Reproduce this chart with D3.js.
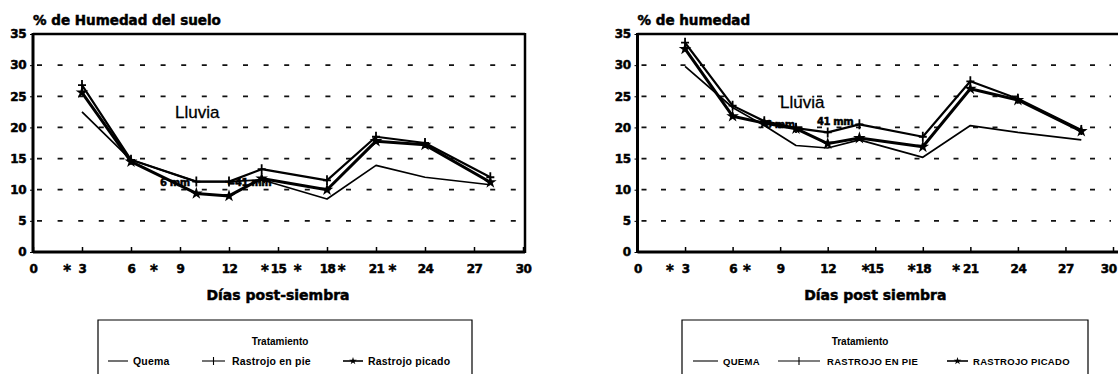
<!DOCTYPE html>
<html>
<head>
<meta charset="utf-8">
<script src="https://cdn.jsdelivr.net/npm/d3@7"></script>
<style>
  body { margin: 0; background: #fff; }
  svg { display: block; }
</style>
</head>
<body>
<div class="canvas"></div>
<script>
// Data - left panel (% de Humedad del suelo)
var daysL = [3, 6, 10, 12, 14, 18, 21, 24, 28],
    quemaL = [22.5, 14.8, 11.3, 11.3, 11.6, 8.5, 13.9, 12.0, 10.8],
    pieL = [26.8, 14.8, 11.3, 11.3, 13.3, 11.5, 18.5, 17.5, 12.0],
    picadoL = [25.6, 14.5, 9.4, 9.0, 11.8, 10.0, 17.8, 17.2, 11.2],
    rainL = [2.1, 7.4, 14.2, 16.2, 18.9, 22.0];

// Data - right panel (% de humedad)
var daysR = [3, 6, 8, 10, 12, 14, 18, 21, 24, 28],
    quemaR = [29.8, 23.2, 20.3, 17.1, 16.7, 18.0, 15.2, 20.3, 19.2, 18.0],
    pieR = [33.6, 23.5, 21.0, 19.9, 19.2, 20.5, 18.5, 27.4, 24.6, 19.6],
    picadoR = [32.6, 21.8, 20.7, 19.8, 17.4, 18.3, 16.9, 26.2, 24.4, 19.4],
    rainR = [2.05, 6.9, 14.4, 17.3, 20.1];

var xTicks = [0, 3, 6, 9, 12, 15, 18, 21, 24, 27, 30],
    yTicks = [0, 5, 10, 15, 20, 25, 30, 35],
    gridVals = [5, 10, 15, 20, 25, 30],
    legendL = ['Quema', 'Rastrojo en pie', 'Rastrojo picado'],
    legendR = ['QUEMA', 'RASTROJO EN PIE', 'RASTROJO PICADO'];

var width = 1118, height = 374,
    boldFont = 'DejaVu Sans, sans-serif',
    plainFont = 'Liberation Sans, Arial, sans-serif';

var svg = d3.select('.canvas').append('svg')
    .attr('width', width)
    .attr('height', height)
    .style('background-color', '#fff');

var y = d3.scaleLinear().domain([0, 35]).range([252, 34]);

// heavy text, thickened with a thin stroke
function heavy(sel, size) {
    return sel.attr('font-family', boldFont).attr('font-weight', 'bold')
        .attr('font-size', size).attr('fill', '#000')
        .attr('stroke', '#000').attr('stroke-width', 0.5);
}

function panel(cfg) {
    var x = d3.scaleLinear().domain([0, 30]).range([cfg.x0, cfg.x1]);
    var g = svg.append('g');

    // dashed grid
    g.selectAll('.grid').data(gridVals).enter().append('line')
        .attr('x1', cfg.x0 + 4).attr('x2', cfg.x1 - 2)
        .attr('y1', function (d) { return y(d); })
        .attr('y2', function (d) { return y(d); })
        .attr('stroke', '#111').attr('stroke-width', 1.8)
        .attr('stroke-dasharray', cfg.dash);

    // y axis
    var ya = g.append('g').attr('transform', 'translate(' + cfg.x0 + ',0)')
        .call(d3.axisLeft(y).tickValues(yTicks).tickSize(3).tickPadding(4));
    ya.select('.domain').remove();
    heavy(ya.selectAll('text'), 12).attr('letter-spacing', -0.5);

    // x axis
    var xa = g.append('g').attr('transform', 'translate(0,252)')
        .call(d3.axisBottom(x).tickValues(xTicks).tickSizeInner(-5).tickSizeOuter(0).tickPadding(12));
    xa.select('.domain').remove();
    xa.selectAll('line').attr('stroke-width', 1.5);
    heavy(xa.selectAll('text'), 12).attr('letter-spacing', -0.5);
    if (cfg.lastEnd) {
        xa.selectAll('.tick').filter(function (d) { return d === 30; })
            .select('text').attr('text-anchor', 'end').attr('dx', 3);
    }

    // rain marks next to x labels
    heavy(g.selectAll('.rain').data(cfg.rain).enter().append('text')
        .attr('x', function (d) { return x(d); })
        .attr('y', 276)
        .attr('text-anchor', 'middle'), 15)
        .text('*');

    // frame
    g.append('line').attr('x1', cfg.x0).attr('x2', cfg.frameRight).attr('y1', 34).attr('y2', 34)
        .attr('stroke', '#000').attr('stroke-width', 2.5);
    g.append('line').attr('x1', cfg.x0).attr('x2', cfg.frameRight).attr('y1', 252).attr('y2', 252)
        .attr('stroke', '#000').attr('stroke-width', 3);
    g.append('line').attr('x1', cfg.x0).attr('x2', cfg.x0).attr('y1', 33).attr('y2', 253)
        .attr('stroke', '#000').attr('stroke-width', 3);
    if (cfg.rightLine) {
        g.append('line').attr('x1', cfg.frameRight).attr('x2', cfg.frameRight).attr('y1', 33).attr('y2', 253)
            .attr('stroke', '#000').attr('stroke-width', 2.5);
    }

    // title
    heavy(g.append('text').attr('x', cfg.x0).attr('y', 25), 13.5)
        .text(cfg.title);

    // x axis label
    heavy(g.append('text').attr('x', (cfg.x0 + cfg.x1) / 2).attr('y', 300)
        .attr('text-anchor', 'middle'), 14)
        .text(cfg.xLabel);

    // series
    var line = d3.line().x(function (d) { return x(d[0]); }).y(function (d) { return y(d[1]); });
    var series = [
        {vals: cfg.quema, w: 1.7, mark: null},
        {vals: cfg.pie, w: 2.2, mark: 'cross'},
        {vals: cfg.picado, w: 3, mark: 'star'}
    ];
    series.forEach(function (s) {
        var pts = cfg.days.map(function (d, i) { return [d, s.vals[i]]; });
        g.append('path').attr('d', line(pts))
            .attr('fill', 'none').attr('stroke', '#000').attr('stroke-width', s.w)
            .attr('stroke-linejoin', 'round');
        if (s.mark === 'cross') {
            g.selectAll(null).data(pts).enter().append('path')
                .attr('transform', function (d) { return 'translate(' + x(d[0]) + ',' + y(d[1]) + ')'; })
                .attr('d', 'M-4,0H4M0,-5V5')
                .attr('stroke', '#000').attr('stroke-width', 1.8);
        } else if (s.mark === 'star') {
            g.selectAll(null).data(pts).enter().append('path')
                .attr('transform', function (d) { return 'translate(' + x(d[0]) + ',' + y(d[1]) + ')'; })
                .attr('d', d3.symbol().type(d3.symbolStar).size(50))
                .attr('fill', '#000');
        }
    });

    // annotations
    g.append('text').attr('x', cfg.lluvia[0]).attr('y', cfg.lluvia[1])
        .attr('font-family', plainFont).attr('font-size', 17)
        .attr('stroke', '#000').attr('stroke-width', 0.3)
        .text('Lluvia');
    cfg.notes.forEach(function (n) {
        heavy(g.append('text').attr('x', n[0]).attr('y', n[1]), 10)
            .attr('letter-spacing', -0.4)
            .text(n[2]);
    });

    // legend box
    var lg = svg.append('g');
    lg.append('path')
        .attr('d', 'M' + cfg.lx0 + ',' + 376 + 'V320H' + cfg.lx1 + 'V376')
        .attr('fill', 'none').attr('stroke', '#000').attr('stroke-width', 1.2);
    lg.append('text').attr('x', cfg.tratX).attr('y', 345).attr('text-anchor', 'middle')
        .attr('font-family', plainFont).attr('font-weight', 'bold').attr('font-size', 10)
        .text('Tratamiento');
    cfg.legendItems.forEach(function (it, i) {
        lg.append('line').attr('x1', it[0]).attr('x2', it[1]).attr('y1', 361).attr('y2', 361)
            .attr('stroke', '#000').attr('stroke-width', i === 2 ? 1.6 : 1.1);
        if (i === 1) {
            lg.append('path').attr('d', 'M' + ((it[0] + it[1]) / 2) + ',357V365')
                .attr('stroke', '#000').attr('stroke-width', 1.1);
        } else if (i === 2) {
            lg.append('path').attr('transform', 'translate(' + ((it[0] + it[1]) / 2) + ',361)')
                .attr('d', d3.symbol().type(d3.symbolStar).size(18)).attr('fill', '#000');
        }
        lg.append('text').attr('x', it[2]).attr('y', 365)
            .attr('font-family', plainFont).attr('font-weight', 'bold')
            .attr('font-size', cfg.legendSize).attr('letter-spacing', cfg.legendSpacing)
            .text(cfg.legend[i]);
    });
}

panel({
    x0: 33, x1: 523, frameRight: 525, rightLine: true, dash: '5,15.6', lastEnd: false,
    title: '% de Humedad del suelo', xLabel: 'Días post-siembra',
    days: daysL, quema: quemaL, pie: pieL, picado: picadoL, rain: rainL,
    lluvia: [175, 118], notes: [[160, 186, '6 mm'], [227, 186, '=41 mm']],
    lx0: 98, lx1: 472, tratX: 280, legend: legendL, legendSize: 10.5, legendSpacing: 0.2,
    legendItems: [[108, 128, 133], [202, 225, 232], [343, 363, 368]]
});

panel({
    x0: 637.5, x1: 1113, frameRight: 1118, rightLine: false, dash: '5,14.5', lastEnd: true,
    title: '% de humedad', xLabel: 'Días post siembra',
    days: daysR, quema: quemaR, pie: pieR, picado: picadoR, rain: rainR,
    lluvia: [780, 108], notes: [[765, 128, '6 mm'], [817, 125, '41 mm']],
    lx0: 682, lx1: 1088, tratX: 860, legend: legendR, legendSize: 9.5, legendSpacing: 0.3,
    legendItems: [[693, 718, 723], [778, 820, 827], [947, 968, 973]]
});
</script>
</body>
</html>
